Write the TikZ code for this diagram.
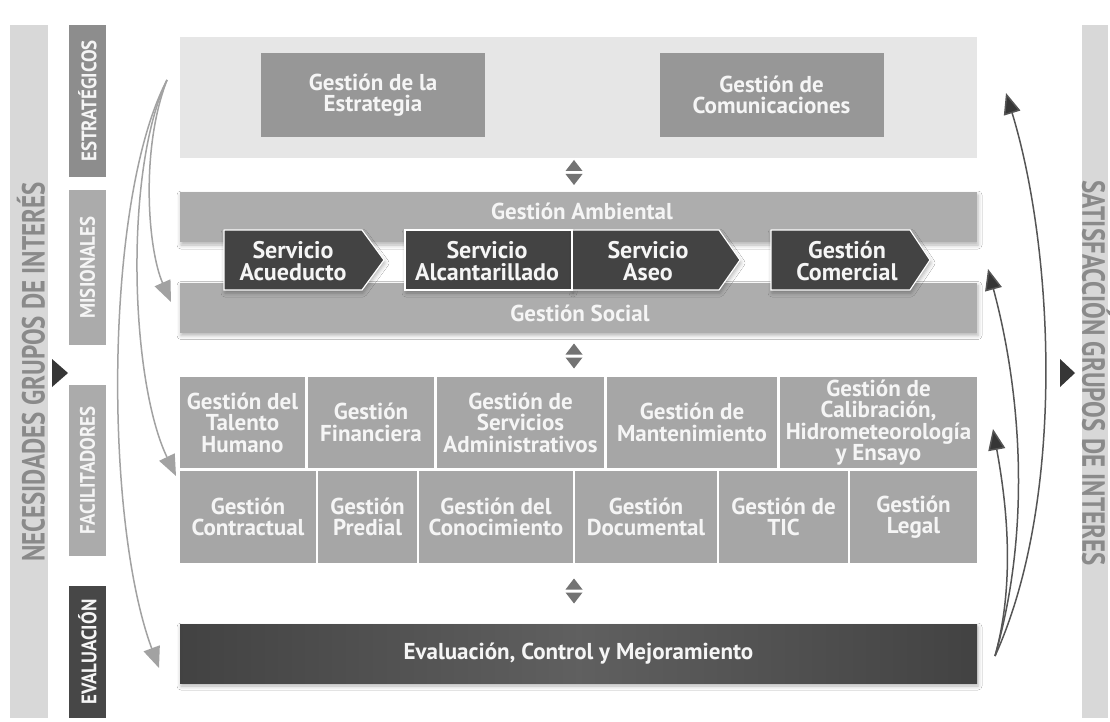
\documentclass[tikz,border=0pt]{standalone}
\usepackage{fontspec}
\setmainfont{PT Sans}
\newfontfamily\sidefont{PT Sans}[FakeStretch=0.78]
\newfontfamily\labfont{PT Sans}[FakeStretch=0.9]
\usetikzlibrary{arrows.meta,shadows.blur}

\definecolor{sidebarc}{HTML}{D8D8D8}
\definecolor{sidetextc}{HTML}{8A8A8A}
\definecolor{estrc}{HTML}{8D8D8D}
\definecolor{misc}{HTML}{ABABAB}
\definecolor{evalc}{HTML}{474747}
\definecolor{topbandc}{HTML}{E6E6E6}
\definecolor{topboxc}{HTML}{979797}
\definecolor{bandc}{HTML}{ADADAD}
\definecolor{chevc}{HTML}{434343}
\definecolor{cellc}{HTML}{A6A6A6}
\definecolor{evalbarc}{HTML}{4E4E4E}
\definecolor{dblc}{HTML}{737373}
\definecolor{larrowc}{HTML}{A2A2A2}
\definecolor{rarrowc}{HTML}{555555}
\definecolor{rheadc}{HTML}{363636}
\definecolor{lighttext}{HTML}{F5F5F5}

\tikzset{
  dbltri/.pic={
    \fill[dblc] (-8.5,-1.5) -- (8.5,-1.5) -- (0,-12.5) -- cycle;
    \fill[dblc] (-8.5,1.5) -- (8.5,1.5) -- (0,12.5) -- cycle;
  }
}

\begin{document}
\begin{tikzpicture}[x=1pt,y=-1pt,
  every node/.style={inner sep=0pt, outer sep=0pt},
  block/.style={font=\bfseries\fontsize{23}{21.5}\selectfont, text=lighttext, align=center},
  chevtext/.style={font=\bfseries\fontsize{24}{22}\selectfont, text=lighttext, align=center},
  softshadow/.style={blur shadow={shadow xshift=1pt, shadow yshift=-3pt, shadow blur radius=4pt, shadow opacity=30}},
  sidebar/.style={fill=sidebarc, minimum width=#1},
  sidelabel/.style={font=\sidefont\bfseries\fontsize{32}{32}\selectfont, text=sidetextc},
  catbox/.style={fill=#1, minimum width=37pt},
  catlabel/.style={font=\labfont\bfseries\fontsize{21}{21}\selectfont, text=lighttext, rotate=90},
  topbox/.style={block, fill=topboxc, minimum width=224pt, minimum height=84pt},
  band/.style={fill=bandc, minimum width=797pt, minimum height=50pt, softshadow},
  bandlabel/.style={block},
  chev/.style={fill=chevc, draw=white, line width=1.2pt, softshadow},
  cell/.style={block, fill=cellc},
  larrow/.style={draw=larrowc, line width=1.5pt, -{Triangle[length=21pt,width=17pt]}},
  rarrow/.style={draw=rarrowc, line width=1.5pt, -{Triangle[length=21pt,width=17pt,fill=rheadc]}},
  sidetri/.style={fill=rheadc}
]
\fill[white] (0,0) rectangle (1110,722);
\useasboundingbox (0,0) rectangle (1110,722);

% side bars with their captions
\node[sidebar=38pt, minimum height=693pt] (lbar) at (29,371.5) {};
\node[sidelabel, rotate=90] (ltext) at (31,372) {NECESIDADES GRUPOS DE INTERÉS};
\node[sidebar=26pt, minimum height=693pt] (rbar) at (1095,371.5) {};
\node[sidelabel, rotate=-90] (rtext) at (1096,373) {SATISFACCIÓN GRUPOS DE INTERES};
\fill[sidetri] (52,359) -- (68,373) -- (52,387) -- cycle;
\fill[sidetri] (1060,359) -- (1075,373) -- (1060,387) -- cycle;

% category column
\node[catbox=estrc, minimum height=152pt] (cestr) at (87.5,101) {};
\node[catlabel] at (cestr) {ESTRATÉGICOS};
\node[catbox=misc, minimum height=155pt] (cmis) at (87.5,267.5) {};
\node[catlabel] at (cmis) {MISIONALES};
\node[catbox=misc, minimum height=171pt] (cfac) at (87.5,470.5) {};
\node[catlabel] at (cfac) {FACILITADORES};
\node[catbox=evalc, minimum height=132pt] (ceval) at (87.5,652) {};
\node[catlabel] at (ceval) {EVALUACIÓN};

% strategic processes
\node[fill=topbandc, minimum width=797pt, minimum height=121pt] (estrband) at (578.5,97.5) {};
\node[topbox] (estrategia) at (373,95) {Gestión de la\\Estrategia};
\node[topbox] (comunic) at (771.5,95) {Gestión de\\Comunicaciones};

\pic at (574,172.5) {dbltri};

% mission processes
\node[band] (ambiental) at (578.5,217) {};
\node[bandlabel] at (582,211) {Gestión Ambiental};
\node[band] (social) at (578.5,307.5) {};
\node[bandlabel] at (580,313) {Gestión Social};

\fill[chev] (224,230) -- (362,230) -- (384,260) -- (362,290) -- (224,290) -- cycle;
\fill[chev] (405,230) rectangle (572,290);
\fill[chev] (572,230) -- (719,230) -- (740,260) -- (719,290) -- (572,290) -- cycle;
\fill[chev] (771,230) -- (910,230) -- (930,260) -- (910,290) -- (771,290) -- cycle;
\draw[white, line width=1.2pt] (405,230) rectangle (572,290);
\node[chevtext] (acueducto) at (293,261) {Servicio\\Acueducto};
\node[chevtext] (alcant) at (487,261) {Servicio\\Alcantarillado};
\node[chevtext] (aseo) at (648,261) {Servicio\\Aseo};
\node[chevtext] (comercial) at (847,261) {Gestión\\Comercial};

\pic at (574,356) {dbltri};

% support processes
\node[cell, minimum width=125pt, minimum height=91pt] (talento) at (242.5,422.5) {Gestión del\\Talento\\Humano};
\node[cell, minimum width=126pt, minimum height=91pt] (financ) at (371,422.5) {Gestión\\Financiera};
\node[cell, minimum width=167pt, minimum height=91pt] (servadm) at (520.5,422.5) {Gestión de\\Servicios\\Administrativos};
\node[cell, minimum width=170pt, minimum height=91pt] (manten) at (692,422.5) {Gestión de\\Mantenimiento};
\node[cell, minimum width=197pt, minimum height=91pt] (calib) at (878.5,422.5) {Gestión de\\Calibración,\\Hidrometeorología\\y Ensayo};

\node[cell, minimum width=136pt, minimum height=92pt] (contract) at (248,517) {Gestión\\Contractual};
\node[cell, minimum width=99pt, minimum height=92pt] (predial) at (367.5,517) {Gestión\\Predial};
\node[cell, minimum width=154pt, minimum height=92pt] (conoc) at (496,517) {Gestión del\\Conocimiento};
\node[cell, minimum width=142pt, minimum height=92pt] (docum) at (646,517) {Gestión\\Documental};
\node[cell, minimum width=129pt, minimum height=92pt] (tic) at (783.5,517) {Gestión de\\TIC};
\node[cell, minimum width=127pt, minimum height=92pt] (legal) at (913.5,517) {Gestión\\Legal};

\pic at (574,591) {dbltri};

% evaluation
\node[block, minimum width=797pt, minimum height=59pt, softshadow,
      left color=evalbarc!85!black, right color=evalbarc!85!black, middle color=evalbarc!90!white]
      (evalbar) at (578.5,653.5) {Evaluación, Control y Mejoramiento};

% feedback arrows, left side
\coordinate (lsrc) at (167,80);
\coordinate (lmis) at (171,302);
\coordinate (lfac) at (176,476);
\coordinate (leval) at (159,668);
\draw[larrow] (lsrc) .. controls (140,150) and (148,250) .. (lmis);
\draw[larrow] (lsrc) .. controls (124,170) and (130,380) .. (lfac);
\draw[larrow] (lsrc) .. controls (104,200) and (104,520) .. (leval);

% feedback arrows, right side
\coordinate (rsrc) at (995,656);
\coordinate (restr) at (1006,93);
\coordinate (rmis) at (988,269);
\coordinate (rfac) at (993,429);
\draw[rarrow] (rsrc) .. controls (1066,500) and (1054,250) .. (restr);
\draw[rarrow] (rsrc) .. controls (1034,520) and (1018,380) .. (rmis);
\draw[rarrow] (rsrc) .. controls (1016,580) and (1006,500) .. (rfac);
\end{tikzpicture}
\end{document}
